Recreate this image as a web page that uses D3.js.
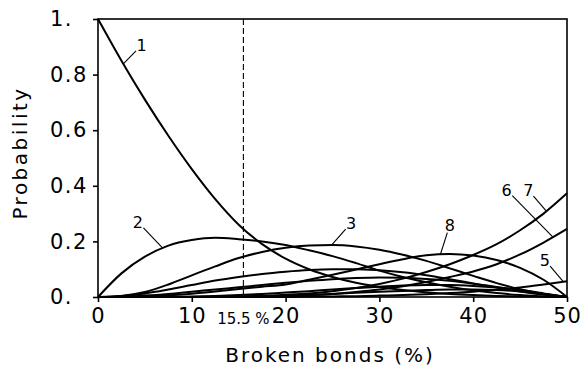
<!DOCTYPE html>
<html>
<head>
<meta charset="utf-8">
<script src="https://cdn.jsdelivr.net/npm/d3@7"></script>
<style>
  body { margin: 0; background: #fff; }
  text { font-family: "DejaVu Sans", sans-serif; fill: #000; }
</style>
</head>
<body>
<script>
const w = 584;
const h = 367;

// broken bonds (%) at which every curve is read
const xs = [0, 2.5, 5, 7.5, 10, 12.5, 15, 17.5, 20, 22.5, 25, 27.5, 30, 32.5, 35, 37.5, 40, 42.5, 45, 47.5, 50];

// probability, one array per curve
const c1  = [1.0, 0.85, 0.71, 0.58, 0.46, 0.352, 0.26, 0.19, 0.138, 0.1, 0.072, 0.051, 0.036, 0.025, 0.017, 0.011, 0.007, 0.004, 0.002, 0.001, 0];
const c2  = [0, 0.085, 0.145, 0.185, 0.205, 0.213, 0.208, 0.2, 0.187, 0.168, 0.147, 0.122, 0.095, 0.072, 0.053, 0.037, 0.024, 0.014, 0.007, 0.002, 0];
const c3  = [0, 0.004, 0.018, 0.045, 0.078, 0.11, 0.14, 0.162, 0.177, 0.185, 0.187, 0.182, 0.17, 0.152, 0.13, 0.103, 0.076, 0.05, 0.028, 0.011, 0];
const c4  = [0, 0.004, 0.013, 0.027, 0.043, 0.059, 0.072, 0.083, 0.091, 0.097, 0.1, 0.1, 0.096, 0.089, 0.078, 0.064, 0.049, 0.034, 0.02, 0.008, 0];
const c5  = [0, 0, 0, 0, 0, 0, 0, 0, 0, 0.001, 0.002, 0.003, 0.005, 0.007, 0.01, 0.014, 0.019, 0.026, 0.034, 0.045, 0.057];
const c6  = [0, 0, 0, 0, 0, 0, 0, 0.001, 0.003, 0.006, 0.011, 0.018, 0.027, 0.039, 0.054, 0.072, 0.092, 0.118, 0.153, 0.196, 0.245];
const c7  = [0, 0, 0, 0, 0, 0, 0.002, 0.004, 0.008, 0.013, 0.021, 0.032, 0.047, 0.066, 0.09, 0.118, 0.151, 0.19, 0.24, 0.3, 0.373];
const c8  = [0, 0, 0.002, 0.006, 0.012, 0.02, 0.029, 0.037, 0.045, 0.062, 0.08, 0.099, 0.118, 0.136, 0.15, 0.155, 0.149, 0.133, 0.105, 0.062, 0];
const c9  = [0, 0.001, 0.005, 0.011, 0.019, 0.027, 0.035, 0.043, 0.051, 0.058, 0.064, 0.068, 0.07, 0.069, 0.065, 0.058, 0.048, 0.036, 0.024, 0.011, 0];
const c10 = [0, 0, 0, 0, 0.002, 0.004, 0.007, 0.011, 0.016, 0.021, 0.027, 0.032, 0.037, 0.041, 0.043, 0.043, 0.04, 0.034, 0.025, 0.013, 0];
const c11 = [0, 0, 0, 0, 0, 0, 0.001, 0.003, 0.005, 0.008, 0.011, 0.015, 0.019, 0.022, 0.025, 0.027, 0.027, 0.025, 0.02, 0.011, 0];

const curves = [c1, c2, c3, c4, c5, c6, c7, c8, c9, c10, c11];

// curve labels: name, curve, x where the leader touches the curve, label position
const labelNames = ["1", "2", "3", "8", "6", "7", "5"];
const labelCurves = [c1, c2, c3, c8, c6, c7, c5];
const labelAt = [2.7, 6.9, 24.9, 36.5, 48.5, 47.8, 49.6];
const labelX = [4.65, 4.26, 26.97, 37.5, 43.57, 45.87, 47.65];
const labelY = [0.906, 0.27, 0.266, 0.259, 0.385, 0.385, 0.133];

const xTicks = [0, 10, 20, 30, 40, 50];
const yTicks = [0, 0.2, 0.4, 0.6, 0.8, 1];
const yTickText = ["0.", "0.2", "0.4", "0.6", "0.8", "1."];
const critical = 15.5;

const svg = d3.select("body")
  .append("svg")
  .attr("width", w)
  .attr("height", h);

const x = d3.scaleLinear().domain([0, 50]).range([98, 567]);
const y = d3.scaleLinear().domain([0, 1]).range([297, 19]);

// frame
svg.append("rect")
  .attr("x", x(0)).attr("y", y(1))
  .attr("width", x(50) - x(0)).attr("height", y(0) - y(1))
  .attr("fill", "none").attr("stroke", "#000").attr("stroke-width", 1.6);

// axes
const xAxis = svg.append("g")
  .attr("transform", `translate(0,${y(0)})`)
  .call(d3.axisBottom(x).tickValues(xTicks).tickSize(5).tickPadding(6).tickFormat(d3.format("d")));
xAxis.select(".domain").remove();
xAxis.selectAll("line").attr("stroke-width", 1.6);
xAxis.selectAll("text")
  .attr("font-size", 21)
  .attr("letter-spacing", 1)
  .style("font-family", "DejaVu Sans");

const yAxis = svg.append("g")
  .attr("transform", `translate(${x(0)},0)`)
  .call(d3.axisLeft(y).tickValues(yTicks).tickSize(5).tickFormat((d, i) => yTickText[i]));
yAxis.select(".domain").remove();
yAxis.selectAll("line").attr("stroke-width", 1.6);
yAxis.selectAll("text")
  .attr("font-size", 21)
  .attr("letter-spacing", 1.5)
  .attr("text-anchor", "start")
  .attr("x", 50 - x(0))
  .style("font-family", "DejaVu Sans");

// 15.5 % marker
svg.append("line")
  .attr("x1", x(critical)).attr("x2", x(critical))
  .attr("y1", y(1)).attr("y2", y(0))
  .attr("stroke", "#000").attr("stroke-width", 1.1)
  .attr("stroke-dasharray", "6,3");

svg.append("text")
  .attr("x", x(critical)).attr("y", 324)
  .attr("text-anchor", "middle")
  .attr("font-size", 15)
  .text("15.5 %");

// curves
const line = d3.line()
  .x((d, i) => x(xs[i]))
  .y(d => y(d))
  .curve(d3.curveMonotoneX);

svg.selectAll("path.curve")
  .data(curves)
  .enter()
  .append("path")
  .attr("class", "curve")
  .attr("d", line)
  .attr("fill", "none")
  .attr("stroke", "#000")
  .attr("stroke-width", 2);

// value of a curve at some x, straight between read points
function valueAt(c, v) {
  const i = Math.min(d3.bisectRight(xs, v), xs.length - 1);
  const t = (v - xs[i - 1]) / (xs[i] - xs[i - 1]);
  return c[i - 1] + t * (c[i] - c[i - 1]);
}

// labels with leader lines
labelNames.forEach((name, i) => {
  const tx = x(labelX[i]), ty = y(labelY[i]);
  const ax = x(labelAt[i]), ay = y(valueAt(labelCurves[i], labelAt[i]));
  const dx = ax - tx, dy = ay - ty, len = Math.sqrt(dx * dx + dy * dy);
  svg.append("line")
    .attr("x1", tx + dx / len * 8).attr("y1", ty + dy / len * 8)
    .attr("x2", ax).attr("y2", ay)
    .attr("stroke", "#000").attr("stroke-width", 1.1);
  svg.append("text")
    .attr("x", tx).attr("y", ty)
    .attr("dy", "0.35em")
    .attr("text-anchor", "middle")
    .attr("font-size", 16)
    .text(name);
});

// axis titles
svg.append("text")
  .attr("x", 330).attr("y", 362)
  .attr("text-anchor", "middle")
  .attr("font-size", 20)
  .attr("letter-spacing", 2)
  .text("Broken bonds (%)");

svg.append("text")
  .attr("transform", "translate(27,153) rotate(-90)")
  .attr("text-anchor", "middle")
  .attr("font-size", 20)
  .attr("letter-spacing", 2.5)
  .text("Probability");
</script>
</body>
</html>
